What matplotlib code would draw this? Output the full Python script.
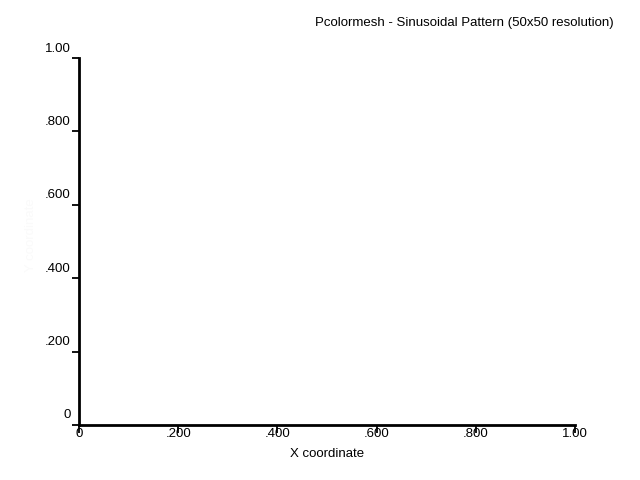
import numpy as np
import matplotlib.pyplot as plt
from matplotlib.transforms import ScaledTranslation

plt.rcParams['font.family'] = ['Liberation Sans', 'DejaVu Sans']

# axis ticks and labels as drawn in the reference
x_ticks = [0.0, 0.2, 0.4, 0.6, 0.8, 1.0]
x_tick_labels = ['0', '.200', '.400', '.600', '.800', '1.00']
y_ticks = [0.0, 0.2, 0.4, 0.6, 0.8, 1.0]
y_tick_labels = ['0', '.200', '.400', '.600', '.800', '1.00']

title = 'Pcolormesh - Sinusoidal Pattern (50x50 resolution)'
x_label = 'X coordinate'
y_label = 'Y coordinate'


fig = plt.figure(figsize=(6.4, 4.8), dpi=100)
ax = fig.add_axes([79/640, 1 - 425/480, 496/640, 367/480])

ax.set_xlim(0, 1)
ax.set_ylim(0, 1)

for side in ['top', 'right']:
    ax.spines[side].set_visible(False)
for side in ['left', 'bottom']:
    ax.spines[side].set_linewidth(2)
    ax.spines[side].set_color('black')

ax.set_xticks(x_ticks)
ax.set_xticklabels(x_tick_labels)
ax.set_yticks(y_ticks)
ax.set_yticklabels(y_tick_labels)

ax.tick_params(axis='x', direction='out', length=6, width=1.3, pad=-4,
               labelsize=9.5, colors='black')
ax.tick_params(axis='y', direction='out', length=5, width=1.3, pad=1,
               labelsize=9.5, colors='black')

# y tick labels sit above their tick marks
shift = ScaledTranslation(0, 11/100, fig.dpi_scale_trans)
for lab in ax.get_yticklabels():
    lab.set_transform(lab.get_transform() + shift)

ax.set_xlabel(x_label, fontsize=9.5, labelpad=6)
# the y label is nearly white in the reference
ax.set_ylabel(y_label, fontsize=9.5, color='#fafafa')
ax.yaxis.set_label_coords((37 - 79) / 496, (425 - 235) / 367)

fig.text(614/640, 1 - 23/480, title, ha='right', va='center', fontsize=9.5)

fig.savefig('out.png', dpi=100)
